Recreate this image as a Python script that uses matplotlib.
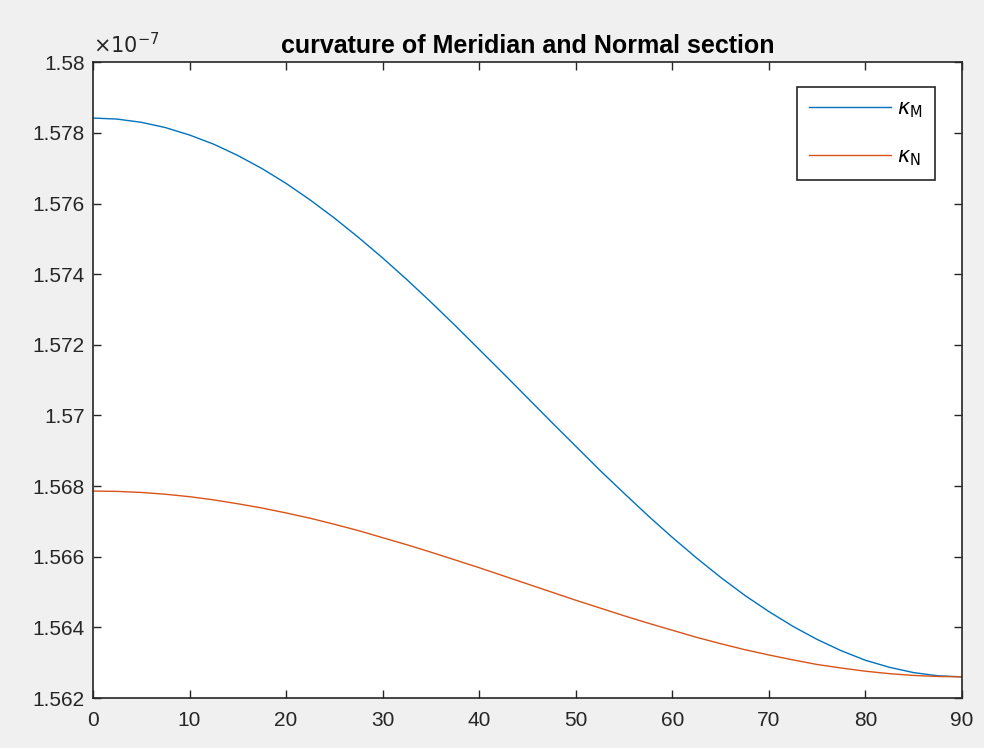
import matplotlib.pyplot as plt
from matplotlib.ticker import FuncFormatter

# latitude (deg) and curvatures, in units of 1e-7 (1/m)
lat = [0, 2.5, 5, 7.5, 10, 12.5, 15, 17.5, 20, 22.5, 25, 27.5, 30, 32.5, 35,
       37.5, 40, 42.5, 45, 47.5, 50, 52.5, 55, 57.5, 60, 62.5, 65, 67.5, 70,
       72.5, 75, 77.5, 80, 82.5, 85, 87.5, 90]
kappa_m = [1.57842, 1.57839, 1.57830, 1.57815, 1.57794, 1.57768, 1.57736,
           1.57699, 1.57657, 1.57610, 1.57559, 1.57504, 1.57446, 1.57385,
           1.57321, 1.57255, 1.57187, 1.57119, 1.57050, 1.56981, 1.56913,
           1.56845, 1.56780, 1.56716, 1.56655, 1.56597, 1.56542, 1.56491,
           1.56445, 1.56403, 1.56366, 1.56334, 1.56307, 1.56287, 1.56272,
           1.56263, 1.56260]
kappa_n = [1.56786, 1.56785, 1.56782, 1.56777, 1.56770, 1.56761, 1.56750,
           1.56738, 1.56724, 1.56709, 1.56692, 1.56674, 1.56654, 1.56634,
           1.56613, 1.56591, 1.56569, 1.56546, 1.56523, 1.56500, 1.56477,
           1.56455, 1.56433, 1.56412, 1.56392, 1.56372, 1.56354, 1.56337,
           1.56322, 1.56308, 1.56295, 1.56285, 1.56276, 1.56269, 1.56264,
           1.56261, 1.56260]
y_ticks = [1.562, 1.564, 1.566, 1.568, 1.570, 1.572, 1.574, 1.576, 1.578, 1.580]
x_ticks = list(range(0, 91, 10))

plt.rcParams["font.family"] = ["Liberation Sans", "DejaVu Sans"]

fig = plt.figure(figsize=(9.84, 7.48), dpi=100, facecolor="#f0f0f0")
ax = fig.add_axes([0.0945, 0.0668, 0.883, 0.850])

ax.plot(lat, kappa_m, color="#0072BD", lw=1.0, label=r"$\kappa_{\rm M}$")
ax.plot(lat, kappa_n, color="#D95319", lw=1.0, label=r"$\kappa_{\rm N}$")

ax.set_xlim(0, 90)
ax.set_ylim(1.562, 1.580)
ax.set_xticks(x_ticks)
ax.set_yticks(y_ticks)
ax.yaxis.set_major_formatter(FuncFormatter(lambda v, p: f"{v:.3f}".rstrip("0")))
ax.tick_params(direction="in", length=6, width=1, top=True, right=True,
               labelsize=15, colors="#262626", pad=6)
ax.tick_params(axis="x", pad=9)
for s in ax.spines.values():
    s.set_color("#262626")
    s.set_linewidth(1.2)

ax.text(0.0, 1.008, r"$\times10^{-7}$", transform=ax.transAxes,
        fontsize=15, color="#262626", ha="left", va="bottom")
ax.set_title("curvature of Meridian and Normal section", fontsize=18,
             fontweight="bold", color="black", pad=7)

leg = ax.legend(loc="upper right", fontsize=15, fancybox=False,
                framealpha=1, edgecolor="#262626", borderpad=0.6,
                handlelength=3.9, handletextpad=0.3, labelspacing=1.3,
                borderaxespad=0, bbox_to_anchor=(0.969, 0.961))
leg.get_frame().set_linewidth(1.2)

fig.savefig("out.png", dpi=100, facecolor=fig.get_facecolor())
